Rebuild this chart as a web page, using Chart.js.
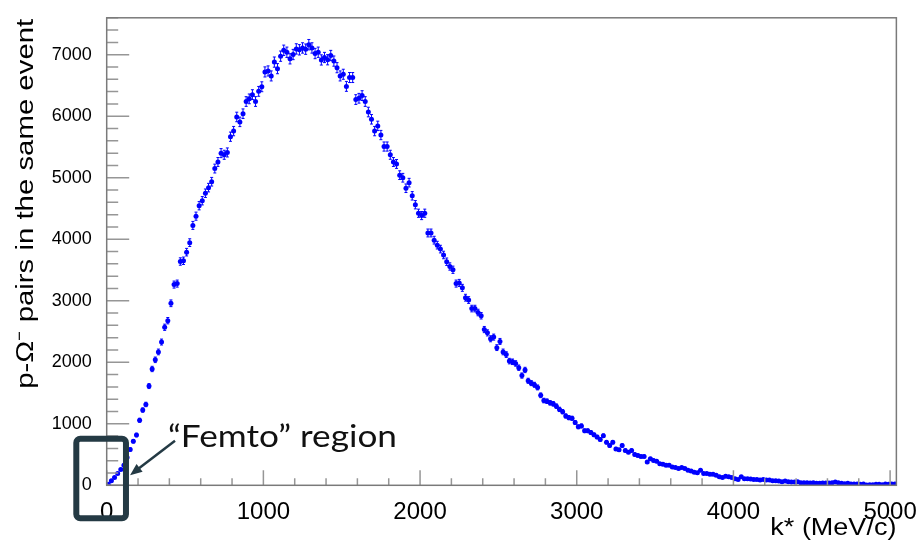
<!DOCTYPE html>
<html>
<head>
<meta charset="utf-8">
<script src="https://cdn.jsdelivr.net/npm/chart.js@4.4.0/dist/chart.umd.min.js"></script>
<style>
body { margin: 0; background: #ffffff; }
#wrap { width: 922px; height: 545px; }
</style>
</head>
<body>
<div id="wrap"><canvas id="kstar_chart" width="922" height="545"></canvas></div>
<script>
// histogram: p-Omega pairs in the same event vs k*, 20 MeV/c bins starting at 0
var binWidth = 20;
var counts = [
    16, 74, 128, 192, 256, 325, 450, 582, 715, 817,
    1057, 1223, 1314, 1613, 1891, 2040, 2168, 2329, 2569, 2676,
    2959, 3263, 3279, 3638, 3650, 3790, 3945, 4225, 4375, 4545,
    4626, 4748, 4839, 4935, 5149, 5256, 5400, 5373, 5411, 5667,
    5758, 5988, 5908, 6041, 6239, 6282, 6351, 6239, 6404, 6479,
    6720, 6736, 6655, 6880, 6773, 6976, 7072, 7040, 6933, 7003,
    7094, 7080, 7110, 7090, 7163, 7110, 7019, 7040, 6915, 6955,
    6918, 6987, 6896, 6789, 6655, 6682, 6485, 6629, 6629, 6271,
    6292, 6335, 6239, 6068, 5950, 5758, 5843, 5694, 5507, 5507,
    5373, 5256, 5224, 5042, 5000, 4829, 4920, 4706, 4561, 4423,
    4385, 4423, 4102, 4102, 3985, 3904, 3840, 3744, 3635, 3557,
    3504, 3279, 3290, 3210, 3050, 3012, 2873, 2873, 2809, 2756,
    2532, 2478, 2382, 2409, 2238, 2339, 2168, 2125, 2019, 2008,
    1981, 1912, 1784, 1875, 1699, 1661, 1634, 1591, 1463, 1378,
    1367, 1340, 1324, 1287, 1234, 1196, 1127, 1100, 1089, 1020,
    950, 966, 886, 886, 860, 820, 785, 745, 806, 699,
    646, 699, 592, 576, 646, 566, 539, 566, 502, 486,
    470, 470, 379, 432, 405, 389, 352, 341, 325, 325,
    299, 288, 272, 288, 272, 245, 234, 213, 202, 245,
    192, 192, 181, 181, 165, 138, 128, 149, 138, 128,
    106, 96, 138, 106, 106, 101, 96, 96, 85, 96,
    85, 85, 74, 74, 69, 58, 69, 58, 53, 53,
    58, 42, 42, 42, 37, 42, 32, 32, 37, 37,
    37, 42, 53, 42, 32, 26, 32, 21, 21, 21,
    16, 21, 5, 10, 10, 16, 16, 10, 21, 16,
    21, 21
];
var xTicks = [0, 1000, 2000, 3000, 4000, 5000];
var yTicks = [0, 1000, 2000, 3000, 4000, 5000, 6000, 7000];
var xTitle = "k* (MeV/c)";
var yTitle = "p-\u03A9\u207B pairs in the same event";
var noteText = "\u201CFemto\u201D region";

var binCenters = counts.map(function (c, i) { return binWidth * (i + 0.5); });
var points = counts.map(function (c, i) { return { x: binCenters[i], y: c }; });

var markerColor = '#0000ff';
var noteColor = '#243a44';

function setTicks(values) {
    return function (scale) {
        scale.ticks = values.map(function (v) { return { value: v }; });
    };
}

// text squeezed/stretched along its own direction to a given length
function stretchedText(ctx, text, x, y, length, rot, align) {
    ctx.save();
    ctx.translate(x, y);
    ctx.rotate(rot);
    var w = ctx.measureText(text).width;
    ctx.scale(length / w, 1);
    ctx.textAlign = align;
    ctx.fillText(text, 0, 0);
    ctx.restore();
}

var rootStyle = {
    id: 'rootStyle',
    beforeDatasetsDraw: function (chart) {
        // poisson error bars
        var ctx = chart.ctx, xs = chart.scales.x, ys = chart.scales.y;
        ctx.save();
        ctx.strokeStyle = markerColor;
        ctx.lineWidth = 1;
        ctx.beginPath();
        for (var i = 0; i < counts.length; i++) {
            var px = xs.getPixelForValue(binCenters[i]);
            var err = Math.sqrt(counts[i]);
            var top = ys.getPixelForValue(counts[i] + err);
            var bot = ys.getPixelForValue(Math.max(counts[i] - err, 0));
            ctx.moveTo(px, top); ctx.lineTo(px, bot);
            ctx.moveTo(px - 1.5, top); ctx.lineTo(px + 1.5, top);
            ctx.moveTo(px - 1.5, bot); ctx.lineTo(px + 1.5, bot);
        }
        ctx.stroke();
        ctx.restore();
    },
    afterDraw: function (chart) {
        var ctx = chart.ctx, a = chart.chartArea;
        var xs = chart.scales.x, ys = chart.scales.y;
        ctx.save();
        // ticks
        ctx.strokeStyle = '#969696';
        ctx.lineWidth = 1.5;
        ctx.beginPath();
        for (var v = 0; v <= ys.max; v += 200) {
            var py = ys.getPixelForValue(v);
            ctx.moveTo(a.left, py);
            ctx.lineTo(a.left + (v % 1000 === 0 ? 22.5 : 11.5), py);
        }
        for (var k = 0; k <= xs.max; k += 200) {
            var px = xs.getPixelForValue(k);
            ctx.moveTo(px, a.bottom);
            ctx.lineTo(px, a.bottom - (k % 1000 === 0 ? 15 : 7));
        }
        ctx.stroke();
        // frame
        ctx.strokeStyle = '#7a7a7a';
        ctx.lineWidth = 1.5;
        ctx.strokeRect(a.left, a.top, a.right - a.left, a.bottom - a.top);

        // axis titles
        ctx.fillStyle = '#000000';
        ctx.textBaseline = 'alphabetic';
        ctx.font = '23px "Liberation Sans"';
        stretchedText(ctx, xTitle, a.right, 535, 126, 0, 'right');
        stretchedText(ctx, yTitle, 33, a.top + 1, 370, -Math.PI / 2, 'right');

        // femto region box
        var bx0 = xs.getPixelForValue(-194), bx1 = xs.getPixelForValue(123);
        var by0 = ys.getPixelForValue(758), by1 = ys.getPixelForValue(-535);
        ctx.strokeStyle = noteColor;
        ctx.lineWidth = 6;
        ctx.beginPath();
        ctx.roundRect(bx0, by0, bx1 - bx0, by1 - by0, 4);
        ctx.stroke();

        // arrow
        var ax0 = xs.getPixelForValue(436), ay0 = ys.getPixelForValue(726);
        var ax1 = xs.getPixelForValue(149), ay1 = ys.getPixelForValue(165);
        var ang = Math.atan2(ay1 - ay0, ax1 - ax0);
        ctx.lineWidth = 2.5;
        ctx.beginPath();
        ctx.moveTo(ax0, ay0);
        ctx.lineTo(ax1 - 8 * Math.cos(ang), ay1 - 8 * Math.sin(ang));
        ctx.stroke();
        ctx.fillStyle = noteColor;
        ctx.beginPath();
        ctx.moveTo(ax1, ay1);
        ctx.lineTo(ax1 - 12 * Math.cos(ang) + 5 * Math.sin(ang), ay1 - 12 * Math.sin(ang) - 5 * Math.cos(ang));
        ctx.lineTo(ax1 - 12 * Math.cos(ang) - 5 * Math.sin(ang), ay1 - 12 * Math.sin(ang) + 5 * Math.cos(ang));
        ctx.closePath();
        ctx.fill();

        // label
        ctx.fillStyle = '#111111';
        ctx.font = '30px Lato';
        stretchedText(ctx, noteText, xs.getPixelForValue(391), ys.getPixelForValue(630), 229, 0, 'left');
        ctx.restore();
    }
};

var canvas = document.getElementById('kstar_chart').getContext('2d');

var chart = new Chart(canvas, {
    type: 'scatter',
    data: {
        datasets: [{
            label: 'same event',
            data: points,
            backgroundColor: markerColor,
            borderWidth: 0,
            pointRadius: 2.5,
            pointHoverRadius: 2.5
        }]
    },
    options: {
        responsive: false,
        animation: false,
        devicePixelRatio: 1,
        layout: {
            padding: { left: 0, top: 11.3, right: 25.3, bottom: 0 }
        },
        plugins: {
            legend: { display: false },
            tooltip: { enabled: false }
        },
        scales: {
            x: {
                type: 'linear',
                min: 0,
                max: 5040,
                afterBuildTicks: setTicks(xTicks),
                afterFit: function (scale) { scale.height = 59.7; },
                grid: { display: false },
                border: { display: false },
                ticks: {
                    color: '#000000',
                    padding: 5,
                    maxRotation: 0,
                    callback: function (v) { return String(v); },
                    font: { family: '"Liberation Sans"', size: 24 }
                }
            },
            y: {
                type: 'linear',
                min: 0,
                max: 7600,
                afterBuildTicks: setTicks(yTicks),
                afterFit: function (scale) { scale.width = 106.7; },
                grid: { display: false },
                border: { display: false },
                ticks: {
                    color: '#000000',
                    padding: 7,
                    callback: function (v) { return String(v); },
                    font: { family: '"Liberation Sans"', size: 18 }
                }
            }
        }
    },
    plugins: [rootStyle]
});
</script>
</body>
</html>
